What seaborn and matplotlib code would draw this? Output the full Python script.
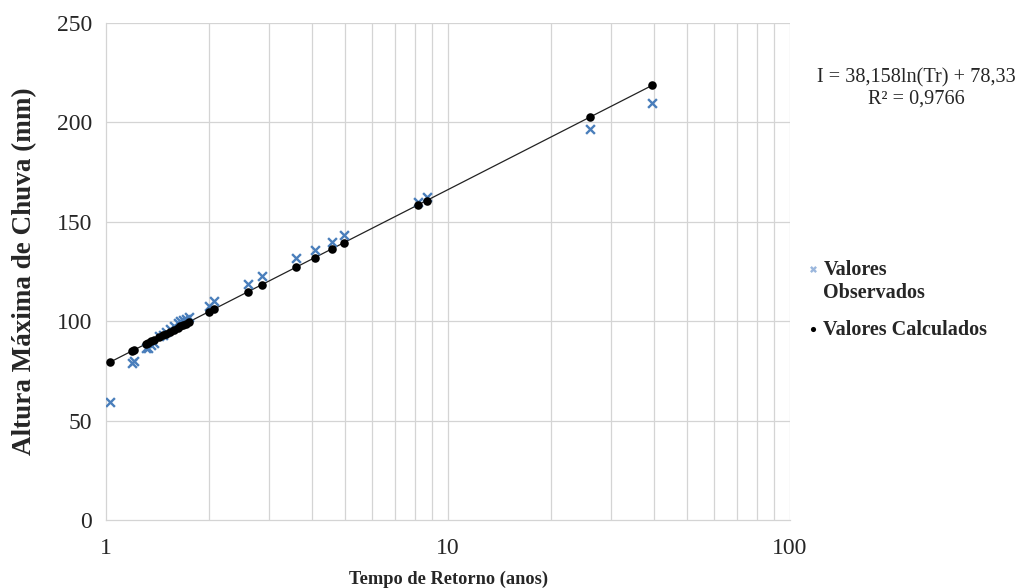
import matplotlib
matplotlib.use("Agg")
import matplotlib.pyplot as plt
import pandas as pd
import seaborn as sns
from matplotlib.ticker import FixedLocator, FixedFormatter, NullFormatter


tempo_retorno = [1.03, 1.19, 1.21, 1.31, 1.33, 1.35, 1.38, 1.43, 1.47, 1.50,
                 1.54, 1.58, 1.62, 1.65, 1.68, 1.71, 1.75, 2.00, 2.07, 2.60,
                 2.85, 3.59, 4.08, 4.59, 4.96, 8.15, 8.66, 25.96, 39.6]
valores_observados = [59.2, 79.0, 80.0, 86.5, 86.5, 88.0, 89.0, 92.5, 93.0, 94.5,
                      96.0, 97.5, 99.0, 100.0, 100.5, 101.0, 102.0, 107.6, 110.3, 118.7,
                      122.7, 131.6, 136.0, 139.8, 143.4, 159.8, 162.6, 196.5, 209.9]
valores_calculados = [79.5, 85.0, 85.6, 88.6, 89.2, 89.8, 90.6, 92.0, 93.0, 93.8,
                      94.8, 95.8, 96.7, 97.4, 98.1, 98.8, 99.7, 104.8, 106.1, 114.8,
                      118.3, 127.1, 132.0, 136.5, 139.5, 158.4, 160.7, 202.6, 218.7]
y_ticks = [0, 50, 100, 150, 200, 250]
x_ticks = [1, 10, 100]
equacao = "I = 38,158ln(Tr) + 78,33\nR² = 0,9766"

df = pd.DataFrame({
    "tr": tempo_retorno,
    "obs": valores_observados,
    "calc": valores_calculados,
})

sns.set_theme(style="white")
plt.rcParams["font.family"] = ["Liberation Serif", "DejaVu Serif"]

fig = plt.figure(figsize=(10.16, 5.88), dpi=100)
ax = fig.add_axes([0.1043, 0.1156, 0.6733, 0.8453])

grid_kw = dict(color="#d4d4d4", linewidth=0.9, zorder=0)
for v in [2, 3, 4, 5, 6, 7, 8, 9, 10, 20, 30, 40, 50, 60, 70, 80, 90, 100]:
    ax.axvline(v, **grid_kw)
for v in y_ticks[1:]:
    ax.axhline(v, **grid_kw)

sns.lineplot(data=df, x="tr", y="calc", color="#222222", linewidth=0.9,
             ax=ax, zorder=2, legend=False)
sns.scatterplot(data=df, x="tr", y="obs", marker="x", color="#4a7ebb",
                s=40, linewidth=1.7, ax=ax, zorder=3, label="Valores\nObservados")
sns.scatterplot(data=df, x="tr", y="calc", marker="o", color="black",
                s=38, edgecolor="black", linewidth=0, ax=ax, zorder=4,
                label="Valores Calculados")

ax.set_xscale("log")
ax.set_xlim(1, 100)
ax.set_ylim(0, 250)
ax.xaxis.set_major_locator(FixedLocator(x_ticks))
ax.xaxis.set_major_formatter(FixedFormatter([str(t) for t in x_ticks]))
ax.xaxis.set_minor_formatter(NullFormatter())
ax.set_yticks(y_ticks)
ax.tick_params(axis="both", which="both", length=0, labelsize=17, pad=10)
ax.tick_params(axis="x", pad=13)

for side in ["top", "right"]:
    ax.spines[side].set_visible(False)
for side in ["left", "bottom"]:
    ax.spines[side].set_color("#d4d4d4")
    ax.spines[side].set_linewidth(0.9)

ax.set_xlabel("Tempo de Retorno (anos)", fontsize=13.2, fontweight="bold", labelpad=8)
ax.set_ylabel("Altura Máxima de Chuva (mm)", fontsize=19.5, fontweight="bold", labelpad=14)

leg = ax.legend(loc="upper left", bbox_to_anchor=(1.0, 0.56), frameon=False,
                handlelength=0.5, handletextpad=0.25, labelspacing=0.85,
                prop={"weight": "bold", "size": 14.5}, markerscale=0.6)
leg.legend_handles[0].set_color("#9bb7dd")
# marker of the two-line entry sits next to the first line, as in Excel
for col in leg._legend_handle_box.get_children():
    for item in col.get_children():
        item.align = "top"

fig.text(916 / 1016, 1 - 88 / 588, equacao, ha="center", va="center",
         fontsize=14.6, linespacing=1.15)

fig.savefig("out.png", dpi=100)
